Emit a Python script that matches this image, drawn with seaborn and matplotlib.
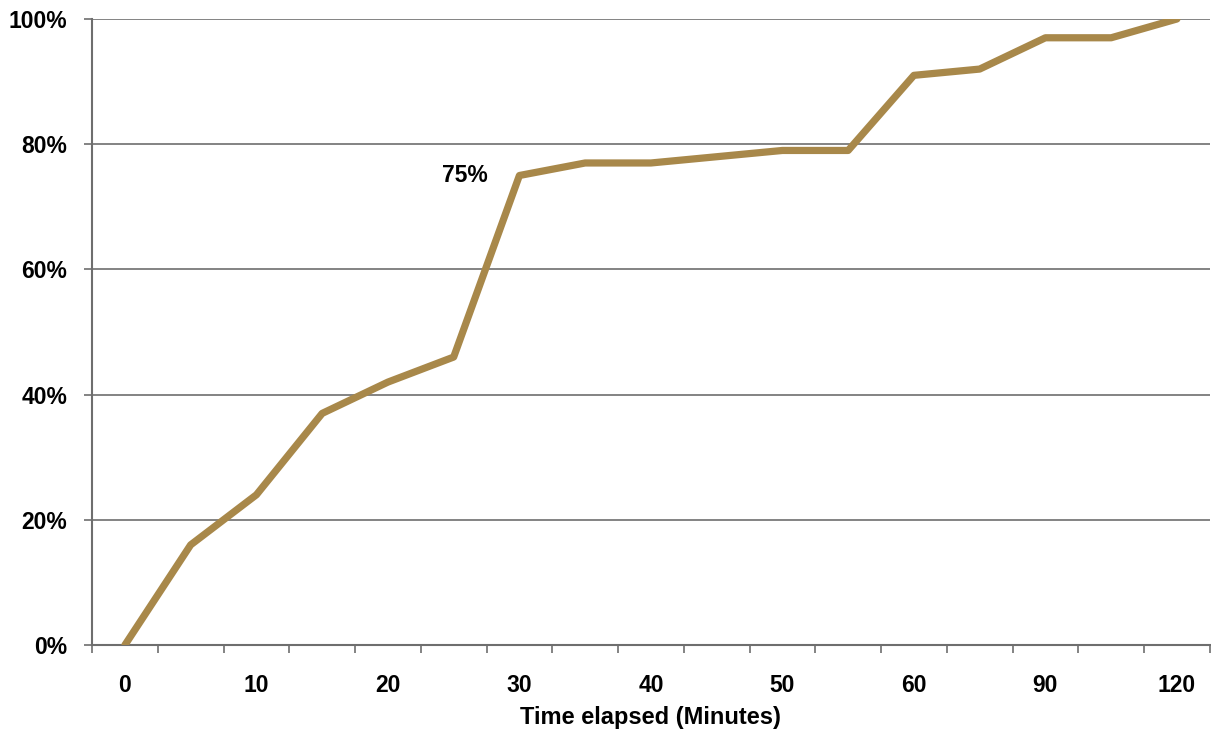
import seaborn as sns
import matplotlib.pyplot as plt
import pandas as pd
import numpy as np

minutes = ['0', '5', '10', '15', '20', '25', '30', '35', '40', '45', '50', '55', '60', '75', '90', '105', '120']
tick_labels = ['0', '', '10', '', '20', '', '30', '', '40', '', '50', '', '60', '', '90', '', '120']
percent = [0, 16, 24, 37, 42, 46, 75, 77, 77, 78, 79, 79, 91, 92, 97, 97, 100]

sns.set_style("white")
plt.rcParams['font.family'] = ['Liberation Sans', 'DejaVu Sans']
plt.rcParams['font.weight'] = 'bold'
plt.rcParams['text.color'] = 'black'
plt.rcParams['xtick.labelcolor'] = 'black'
plt.rcParams['ytick.labelcolor'] = 'black'
plt.rcParams['axes.labelcolor'] = 'black'

df = pd.DataFrame({'Minutes': minutes, 'Percent': percent})

fig = plt.figure(figsize=(12.11, 7.36), dpi=100)
ax = fig.add_axes([0.076, 0.1236, 0.923, 0.8506])

sns.lineplot(data=df, x='Minutes', y='Percent', sort=False, color='#A8884A',
             linewidth=5.2, ax=ax, zorder=3)

ax.set_xlim(-0.5, len(minutes) - 0.5)
ax.set_ylim(0, 100)

# y axis: gridlines every 20%
ax.set_yticks(np.arange(0, 101, 20))
ax.set_yticklabels([f'{v}%' for v in range(0, 101, 20)], fontsize=16.5, fontweight='bold')
ax.yaxis.grid(True, color='#6e6e6e', linewidth=1.2)
ax.tick_params(axis='y', length=6, width=1.2, color='#6e6e6e', labelcolor='black', pad=12, left=True)

# x axis: labels at every other category, ticks between categories
ax.set_xticks(range(len(minutes)))
ax.set_xticklabels(tick_labels, fontsize=16.5, fontweight='bold')
ax.set_xticks(np.arange(-0.5, len(minutes), 1), minor=True)
ax.tick_params(axis='x', which='major', length=0, labelcolor='black', pad=21)
ax.tick_params(axis='x', which='minor', length=6, width=1.2, color='#6e6e6e', bottom=True)

for s in ['top', 'right']:
    ax.spines[s].set_visible(False)
for s in ['left', 'bottom']:
    ax.spines[s].set_color('#6e6e6e')
    ax.spines[s].set_linewidth(1.5)

ax.set_xlabel('Time elapsed (Minutes)', fontsize=17, fontweight='bold', labelpad=6, color='black')
ax.set_ylabel('')

ax.annotate(f'{percent[6]}%', xy=(6, percent[6]), xytext=(-23, 0),
            textcoords='offset points', ha='right', va='center',
            fontsize=16.5, fontweight='bold', color='black')

plt.savefig('out.png', dpi=100)
